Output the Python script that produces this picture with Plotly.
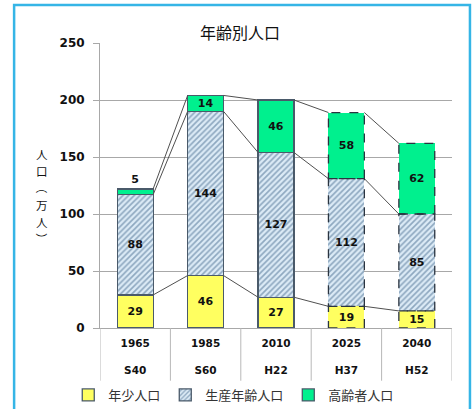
import plotly.graph_objects as go

years = ["1965", "1985", "2010", "2025", "2040"]
eras = ["S40", "S60", "H22", "H37", "H52"]
young = [29, 46, 27, 19, 15]
working = [88, 144, 127, 112, 85]
elderly = [5, 14, 46, 58, 62]
projected = [False, False, False, True, True]
y_ticks = [0, 50, 100, 150, 200, 250]
y_title_chars = ["人", "口", "（", "万", "人", "）"]

W = 0.51
EDGE = "#4a5a6a"
LBL = dict(family="DejaVu Sans", size=11, color="#111", weight="bold")
CJK = "Noto Sans CJK JP"

line_w = [0 if p else 1.3 for p in projected]

fig = go.Figure()
fig.add_trace(go.Bar(
    x=years, y=young, name="年少人口", width=W,
    marker=dict(color="#FFFF60", line=dict(color=EDGE, width=line_w)),
    text=young, textposition="inside", insidetextanchor="middle",
    textfont=LBL,
))
fig.add_trace(go.Bar(
    x=years, y=working, name="生産年齢人口", width=W,
    marker=dict(color="#DCEBF6",
                pattern=dict(shape="/", fgcolor="#40658A", bgcolor="#DCEBF6",
                             size=4, solidity=0.42),
                line=dict(color=EDGE, width=line_w)),
    text=working, textposition="inside", insidetextanchor="middle",
    textfont=LBL,
))
fig.add_trace(go.Bar(
    x=years, y=elderly, name="高齢者人口", width=W,
    marker=dict(color="#00F08E", line=dict(color=EDGE, width=line_w)),
    text=elderly,
    textposition=["outside" if (not p and v < 8) else "inside" for v, p in zip(elderly, projected)],
    insidetextanchor="middle",
    textfont=LBL, cliponaxis=False,
))

# cumulative levels
c1 = young
c2 = [a + b for a, b in zip(young, working)]
c3 = [a + b + c for a, b, c in zip(young, working, elderly)]
shapes = []
# series lines connecting bars
for lev in (c1, c2, c3):
    for i in range(len(years) - 1):
        shapes.append(dict(type="line", xref="x", yref="y",
                           x0=i + W / 2, y0=lev[i], x1=i + 1 - W / 2, y1=lev[i + 1],
                           line=dict(color="#505050", width=1)))
# dashed outlines for projected bars
for i, p in enumerate(projected):
    if not p:
        continue
    for lo, hi in ((0, c1[i]), (c1[i], c2[i]), (c2[i], c3[i])):
        shapes.append(dict(type="rect", xref="x", yref="y",
                           x0=i - W / 2, x1=i + W / 2, y0=lo, y1=hi,
                           line=dict(color="#2a3440", width=1.3, dash="dash"),
                           fillcolor="rgba(0,0,0,0)"))
# category dividers below axis (including the left edge)
for i in range(-1, len(years)):
    shapes.append(dict(type="line", xref="x", yref="paper",
                       x0=i + 0.5, x1=i + 0.5, y0=0, y1=-0.185,
                       line=dict(color="#b8b8b8", width=1)))
# outer frame
shapes.append(dict(type="rect", xref="paper", yref="paper",
                   x0=-0.244, x1=1.051, y0=-0.33, y1=1.133,
                   line=dict(color="#35B5E6", width=2.5)))

# vertical y-axis title, one character per annotation
title_y_px = [154, 171, 188, 205, 222, 239]
annotations = []
for ch, ypx in zip(y_title_chars, title_y_px):
    annotations.append(dict(text=ch, xref="paper", yref="paper",
                            x=(42 - 100) / 352, y=(328 - ypx) / 285,
                            xanchor="center", yanchor="middle", showarrow=False,
                            textangle=90 if ch in "（）" else 0,
                            borderpad=0,
                            font=dict(family=CJK, size=11.5, color="#111")))

fig.update_layout(
    width=475, height=409,
    barmode="stack",
    margin=dict(l=100, r=23, t=43, b=81, autoexpand=False),
    paper_bgcolor="white", plot_bgcolor="white",
    title=dict(text="年齢別人口", x=240 / 475, xanchor="center",
               y=1 - 33 / 409, yanchor="middle",
               font=dict(family=CJK, size=16, color="#111")),
    shapes=shapes,
    uniformtext=dict(minsize=11, mode="show"),
    legend=dict(orientation="h", x=0.38, xanchor="center", y=-0.235, yanchor="middle",
                font=dict(family=CJK, size=13, color="#333"), traceorder="normal",
                bgcolor="rgba(0,0,0,0)"),
    annotations=annotations,
)
fig.update_yaxes(range=[0, 250], tickvals=y_ticks, showgrid=True, gridcolor="#a8a8a8",
                 showline=True, linecolor="#a8a8a8", ticks="outside", ticklen=6,
                 tickcolor="#a8a8a8", tickfont=dict(LBL, size=12), ticklabelstandoff=6,
                 zeroline=False, automargin=False)
fig.update_xaxes(type="category", range=[-0.5, len(years) - 0.5], tickvals=years,
                 ticktext=[f"{y}<br><br>{e}" for y, e in zip(years, eras)],
                 showline=True, linecolor="#a8a8a8", ticks="", tickfont=dict(LBL, size=10.5),
                 ticklabelstandoff=5, showgrid=False, automargin=False)

fig.write_html("out.html")
